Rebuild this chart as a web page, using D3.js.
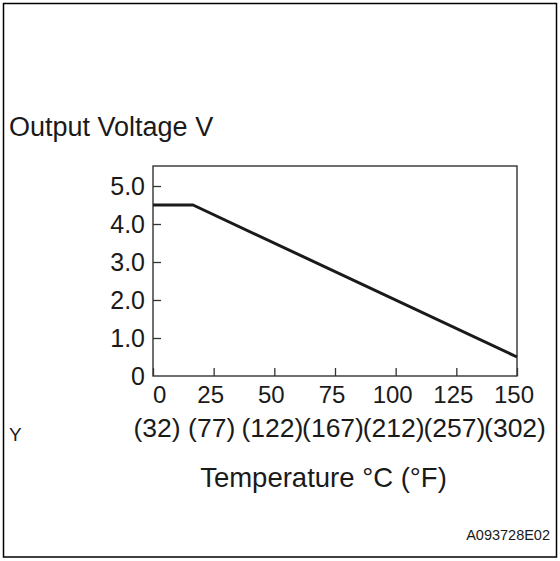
<!DOCTYPE html>
<html>
<head>
<meta charset="utf-8">
<script src="https://cdn.jsdelivr.net/npm/d3@7"></script>
<style>
    body { margin: 0; background: #fff; }
    svg text { font-family: "Liberation Sans", Arial, sans-serif; fill: #1a1a1a; }
</style>
</head>
<body>
<div class="d3-graph"></div>
<script>
// output voltage vs temperature (deg C)
var tempC = [0, 16.5, 150];
var voltage = [4.5, 4.5, 0.5];

var xTicks = [0, 25, 50, 75, 100, 125, 150];
var fahrenheitLabels = ["(32)", "(77)", "(122)", "(167)", "(212)", "(257)", "(302)"];
var yTicks = [0, 1, 2, 3, 4, 5];
var yTickLabels = ["0", "1.0", "2.0", "3.0", "4.0", "5.0"];

(function() {
    var width = 560, height = 561;
    var plot = {left: 153, right: 517, top: 166, bottom: 376};

    var svg = d3.select(".d3-graph")
        .append("svg")
        .attr("width", width)
        .attr("height", height);

    // outer frame
    svg.append("rect")
        .attr("x", 3.5)
        .attr("y", 3.5)
        .attr("width", 553)
        .attr("height", 553.5)
        .attr("fill", "none")
        .attr("stroke", "#000")
        .attr("stroke-width", 1.5);

    var x = d3.scaleLinear()
        .domain([0, 150])
        .range([plot.left, plot.right]);

    var y = d3.scaleLinear()
        .domain([0, 5])
        .range([plot.bottom, plot.bottom - 190]);

    // ticks point inward, labels drawn by hand below
    var xAxis = d3.axisTop(x).tickValues(xTicks).tickSize(8).tickFormat("");
    var yAxis = d3.axisRight(y).tickValues(yTicks).tickSize(8).tickFormat("");

    svg.append("g")
        .attr("transform", "translate(0," + plot.bottom + ")")
        .call(xAxis)
        .call(function(g) {
            g.select(".domain").remove();
            g.selectAll("line").attr("stroke", "#333").attr("stroke-width", 1.3);
        });

    svg.append("g")
        .attr("transform", "translate(" + plot.left + ",0)")
        .call(yAxis)
        .call(function(g) {
            g.select(".domain").remove();
            g.selectAll("line").attr("stroke", "#333").attr("stroke-width", 1.3);
            // no tick at 0, the frame covers it
            g.selectAll(".tick").filter(function(d) { return d === 0; }).select("line").remove();
        });

    svg.append("rect")
        .attr("x", plot.left)
        .attr("y", plot.top)
        .attr("width", plot.right - plot.left)
        .attr("height", plot.bottom - plot.top)
        .attr("fill", "none")
        .attr("stroke", "#333")
        .attr("stroke-width", 1.4);

    var points = tempC.map(function(t, i) {
        return [t, voltage[i]];
    });

    var line = d3.line()
        .x(function(d) { return x(d[0]); })
        .y(function(d) { return y(d[1]); });

    svg.append("path")
        .datum(points)
        .attr("d", line)
        .attr("fill", "none")
        .attr("stroke", "#1a1a1a")
        .attr("stroke-width", 3)
        .attr("stroke-linejoin", "round");

    // y tick labels
    svg.selectAll(".ylab")
        .data(yTicks)
        .enter()
        .append("text")
        .attr("class", "ylab")
        .attr("x", plot.left - 8)
        .attr("y", function(d) { return y(d) + 9; })
        .attr("text-anchor", "end")
        .style("font-size", "25px")
        .text(function(d, i) { return yTickLabels[i]; });

    // celsius row - the 0 sits right of its tick, the rest a bit left
    svg.selectAll(".xlab")
        .data(xTicks)
        .enter()
        .append("text")
        .attr("class", "xlab")
        .attr("x", function(d, i) { return i === 0 ? x(d) : x(d) - 3; })
        .attr("y", 403)
        .attr("text-anchor", function(d, i) { return i === 0 ? "start" : "middle"; })
        .style("font-size", "24px")
        .text(function(d) { return d; });

    // fahrenheit row
    svg.selectAll(".flab")
        .data(xTicks)
        .enter()
        .append("text")
        .attr("class", "flab")
        .attr("x", function(d, i) { return i === 0 ? x(d) + 4 : x(d) - 2; })
        .attr("y", 437)
        .attr("text-anchor", "middle")
        .style("font-size", "26.5px")
        .text(function(d, i) { return fahrenheitLabels[i]; });

    svg.append("text")
        .attr("x", 9)
        .attr("y", 136)
        .style("font-size", "27px")
        .text("Output Voltage V");

    svg.append("text")
        .attr("x", 323.5)
        .attr("y", 487)
        .attr("text-anchor", "middle")
        .style("font-size", "27.5px")
        .text("Temperature °C (°F)");

    svg.append("text")
        .attr("x", 9)
        .attr("y", 441)
        .style("font-size", "19px")
        .text("Y");

    svg.append("text")
        .attr("x", 550)
        .attr("y", 540)
        .attr("text-anchor", "end")
        .style("font-size", "14.5px")
        .text("A093728E02");
})();
</script>
</body>
</html>
